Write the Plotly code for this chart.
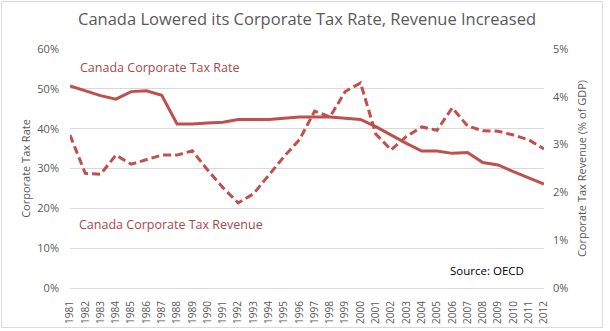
import plotly.graph_objects as go

years = [str(y) for y in range(1981, 2013)]
tax_rate = [50.7, 49.5, 48.3, 47.4, 49.3, 49.5, 48.4, 41.2, 41.2, 41.4, 41.6, 42.3, 42.3, 42.3, 42.6, 42.9,
            42.9, 42.9, 42.6, 42.3, 40.5, 38.3, 36.3, 34.4, 34.4, 33.8, 34.0, 31.5, 30.9, 29.2, 27.6, 26.1]
tax_revenue = [3.2, 2.40, 2.38, 2.78, 2.59, 2.68, 2.78, 2.78, 2.87, 2.47, 2.10, 1.78, 1.97, 2.36, 2.75, 3.10,
               3.70, 3.58, 4.11, 4.29, 3.22, 2.89, 3.17, 3.37, 3.30, 3.77, 3.39, 3.29, 3.28, 3.20, 3.10, 2.91]
rate_ticks = [0, 10, 20, 30, 40, 50, 60]
rev_ticks = [0, 1, 2, 3, 4, 5]

RED = "#C0504D"
GRAY = "#595959"
FONT = "Open Sans"

fig = go.Figure()
fig.add_trace(go.Scatter(x=years, y=tax_rate, mode="lines", line=dict(color=RED, width=3),
                         name="Canada Corporate Tax Rate", yaxis="y"))
fig.add_trace(go.Scatter(x=years, y=tax_revenue, mode="lines", line=dict(color=RED, width=3, dash="8px,4px"),
                         name="Canada Corporate Tax Revenue", yaxis="y2"))

fig.update_layout(
    width=610, height=331,
    margin=dict(l=70, r=65.5, t=49, b=43, autoexpand=False),
    paper_bgcolor="white", plot_bgcolor="white",
    showlegend=False,
    font=dict(family=FONT, color=GRAY, size=11),
    title=dict(text="Canada Lowered its Corporate Tax Rate, Revenue Increased",
               x=0.5, xref="paper", xanchor="center", y=0.942, yanchor="middle",
               font=dict(family=FONT, size=16.5, color=GRAY)),
    xaxis=dict(type="category", tickangle=-90, showgrid=False, ticks="outside", ticklen=8,
               tickcolor="rgba(0,0,0,0)", showline=True, automargin=False,
               linecolor="#D9D9D9", linewidth=1, tickfont=dict(size=10, color=GRAY)),
    yaxis=dict(range=[0, 60], tickvals=rate_ticks, ticktext=[f"{v}%" for v in rate_ticks],
               showgrid=True, gridcolor="#D9D9D9", gridwidth=1, zeroline=False,
               ticklabelstandoff=10, automargin=False,
               title=dict(text="Corporate Tax Rate", font=dict(size=11, color=GRAY), standoff=4),
               tickfont=dict(size=11, color=GRAY)),
    yaxis2=dict(range=[0, 5], tickvals=rev_ticks, ticktext=[f"{v}%" for v in rev_ticks],
                overlaying="y", side="right", showgrid=False, zeroline=False,
                ticklabelstandoff=8, automargin=False,
                title=dict(text="Corporate Tax Revenue (% of GDP)", font=dict(size=11, color=GRAY), standoff=10),
                tickfont=dict(size=11, color=GRAY)),
)

fig.add_annotation(text="Canada Corporate Tax Rate", xref="paper", yref="paper",
                   x=(78 - 70) / 475, y=(288 - 67) / 239, xanchor="left", yanchor="middle",
                   showarrow=False, font=dict(family=FONT, size=12.5, color="#A9484A"))
fig.add_annotation(text="Canada Corporate Tax Revenue", xref="paper", yref="paper",
                   x=(77 - 70) / 475, y=(288 - 224) / 239, xanchor="left", yanchor="middle",
                   showarrow=False, font=dict(family=FONT, size=12.5, color="#A9484A"))
fig.add_annotation(text="Source: OECD", xref="paper", yref="paper",
                   x=(527 - 70) / 475, y=(288 - 270) / 239, xanchor="right", yanchor="middle",
                   showarrow=False, font=dict(family=FONT, size=11.5, color="black"))

fig.add_shape(type="rect", xref="paper", yref="paper",
              x0=(1.5 - 70) / 475, x1=(603.5 - 70) / 475,
              y0=(288 - 327.5) / 239, y1=(288 - 1.5) / 239,
              line=dict(color="#D9D9D9", width=1), fillcolor="rgba(0,0,0,0)", layer="below")

fig.write_html("out.html")
